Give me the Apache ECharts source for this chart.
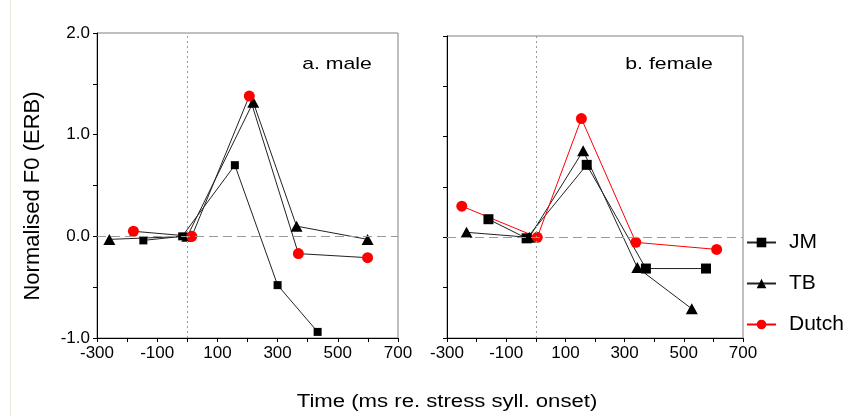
<!DOCTYPE html>
<html>
<head>
<meta charset="utf-8">
<script src="https://cdn.jsdelivr.net/npm/echarts@6/dist/echarts.min.js"></script>
<style>
  html, body { margin: 0; padding: 0; background: #fff; }
  #chart { width: 854px; height: 416px; }
</style>
</head>
<body>
<div id="chart"></div>
<script>
// Labelled tick values (unlabelled ticks fall in between)
const xTickLabels = [-300, -100, 100, 300, 500, 700];
const yTickLabels = [-1, 0, 1, 2];

// a. male — time (ms re. stress syllable onset) and normalised F0 (ERB)
const maleJmTime = [-146, -17, 158, 300, 433];
const maleJmF0 = [-0.04, 0.00, 0.70, -0.48, -0.94];
const maleTbTime = [-259, 0, 219, 363, 599];
const maleTbF0 = [-0.03, 0.00, 1.32, 0.10, -0.03];
const maleDutchTime = [-179, 15, 206, 369, 599];
const maleDutchF0 = [0.05, 0.00, 1.38, -0.17, -0.21];

// b. female
const femaleJmTime = [-160, -31, 172, 372, 575];
const femaleJmF0 = [0.18, -0.01, 0.72, -0.31, -0.31];
const femaleTbTime = [-234, -22, 160, 343, 527];
const femaleTbF0 = [0.05, 0.00, 0.86, -0.30, -0.71];
const femaleDutchTime = [-250, 5, 154, 338, 611];
const femaleDutchF0 = [0.31, 0.00, 1.18, -0.05, -0.12];

const FONT = "'Liberation Sans', Arial, sans-serif";
const RED = '#ff0000';

const pairs = (xs, ys) => xs.map((x, i) => [x, ys[i]]);
const hasTick = (list, v) => list.some(t => Math.abs(t - v) < 1e-9);

function xAxisFor(gi) {
  return {
    type: 'value', gridIndex: gi, min: -300, max: 700, interval: 100,
    axisLine: { show: true, onZero: false, lineStyle: { color: '#000', width: 1 } },
    axisTick: { show: true, length: 4, lineStyle: { color: '#000' } },
    axisLabel: {
      showMinLabel: true, showMaxLabel: true, margin: 7,
      color: '#000', fontSize: 17, fontFamily: FONT,
      formatter: v => hasTick(xTickLabels, v) ? String(v) : ''
    },
    splitLine: { show: false }
  };
}

function yAxisFor(gi, labels) {
  return {
    type: 'value', gridIndex: gi, min: -1, max: 2, interval: 0.5,
    axisLine: { show: true, onZero: false, lineStyle: { color: '#000', width: 1 } },
    axisTick: { show: true, length: 4, lineStyle: { color: '#000' } },
    axisLabel: {
      show: labels, showMinLabel: true, showMaxLabel: true, margin: 7,
      color: '#000', fontSize: 17, fontFamily: FONT,
      formatter: v => hasTick(yTickLabels, v) ? v.toFixed(1) : ''
    },
    splitLine: { show: false }
  };
}

// Dotted line at stress onset and dashed zero line
function guides(gi) {
  return {
    type: 'line', name: 'guides' + gi, xAxisIndex: gi, yAxisIndex: gi,
    data: [], z: 1, silent: true,
    markLine: {
      silent: true, symbol: ['none', 'none'], label: { show: false },
      animation: false,
      data: [
        { xAxis: 0, lineStyle: { type: [2, 3], color: '#9a9a9a', width: 1 } },
        { yAxis: 0, lineStyle: { type: [9, 5], color: '#9a9a9a', width: 1 } }
      ]
    }
  };
}

function speaker(name, gi, xs, ys, symbol, size, markColor, lineColor) {
  return {
    type: 'line', name, xAxisIndex: gi, yAxisIndex: gi,
    data: pairs(xs, ys), z: 3,
    symbol, symbolSize: size, showSymbol: true,
    itemStyle: { color: markColor, borderWidth: 0 },
    lineStyle: { color: lineColor, width: 1 },
    emphasis: { disabled: true }
  };
}

const option = {
  backgroundColor: '#fff',
  animation: false,
  grid: [
    { left: 97, top: 33, width: 301, height: 305, show: true, borderColor: '#808080', borderWidth: 1, backgroundColor: 'transparent' },
    { left: 447, top: 36, width: 296, height: 302, show: true, borderColor: '#808080', borderWidth: 1, backgroundColor: 'transparent' }
  ],
  xAxis: [xAxisFor(0), xAxisFor(1)],
  yAxis: [yAxisFor(0, true), yAxisFor(1, false)],
  legend: {
    orient: 'vertical', left: 746, top: 232, padding: 0,
    itemWidth: 29, itemHeight: 12, itemGap: 20,
    selectedMode: false,
    textStyle: { fontSize: 21, fontFamily: FONT, color: '#000', padding: [0, 0, 0, 8] },
    data: [
      { name: 'JM' },
      { name: 'TB' },
      { name: 'Dutch' }
    ]
  },
  series: [
    guides(1),
    speaker('TB', 1, femaleTbTime, femaleTbF0, 'triangle', [12, 11], '#000', '#222'),
    speaker('JM', 1, femaleJmTime, femaleJmF0, 'rect', 10, '#000', '#222'),
    speaker('Dutch', 1, femaleDutchTime, femaleDutchF0, 'circle', 11, RED, RED),
    guides(0),
    speaker('TB', 0, maleTbTime, maleTbF0, 'triangle', [12, 11], '#000', '#222'),
    speaker('JM', 0, maleJmTime, maleJmF0, 'rect', 8, '#000', '#222'),
    speaker('Dutch', 0, maleDutchTime, maleDutchF0, 'circle', 11, RED, '#222')
  ],
  graphic: [
    { type: 'line', shape: { x1: 10.5, y1: 0, x2: 10.5, y2: 416 }, style: { stroke: '#eeeadf', lineWidth: 1 }, silent: true },
    { type: 'text', x: 337, y: 64, scaleX: 1.25, style: { text: 'a. male', font: '17px ' + FONT, fill: '#000', align: 'center', verticalAlign: 'middle' } },
    { type: 'text', x: 669, y: 64, scaleX: 1.25, style: { text: 'b. female', font: '17px ' + FONT, fill: '#000', align: 'center', verticalAlign: 'middle' } },
    { type: 'text', x: 447, y: 402, scaleX: 1.23, style: { text: 'Time (ms re. stress syll. onset)', font: '18px ' + FONT, fill: '#000', align: 'center', verticalAlign: 'middle' } },
    { type: 'text', x: 33, y: 196, rotation: Math.PI / 2, style: { text: 'Normalised F0 (ERB)', font: '22px ' + FONT, fill: '#000', align: 'center', verticalAlign: 'middle' } }
  ]
};

const chart = echarts.init(document.getElementById('chart'), null, { renderer: 'canvas' });
chart.setOption(option);
</script>
</body>
</html>
